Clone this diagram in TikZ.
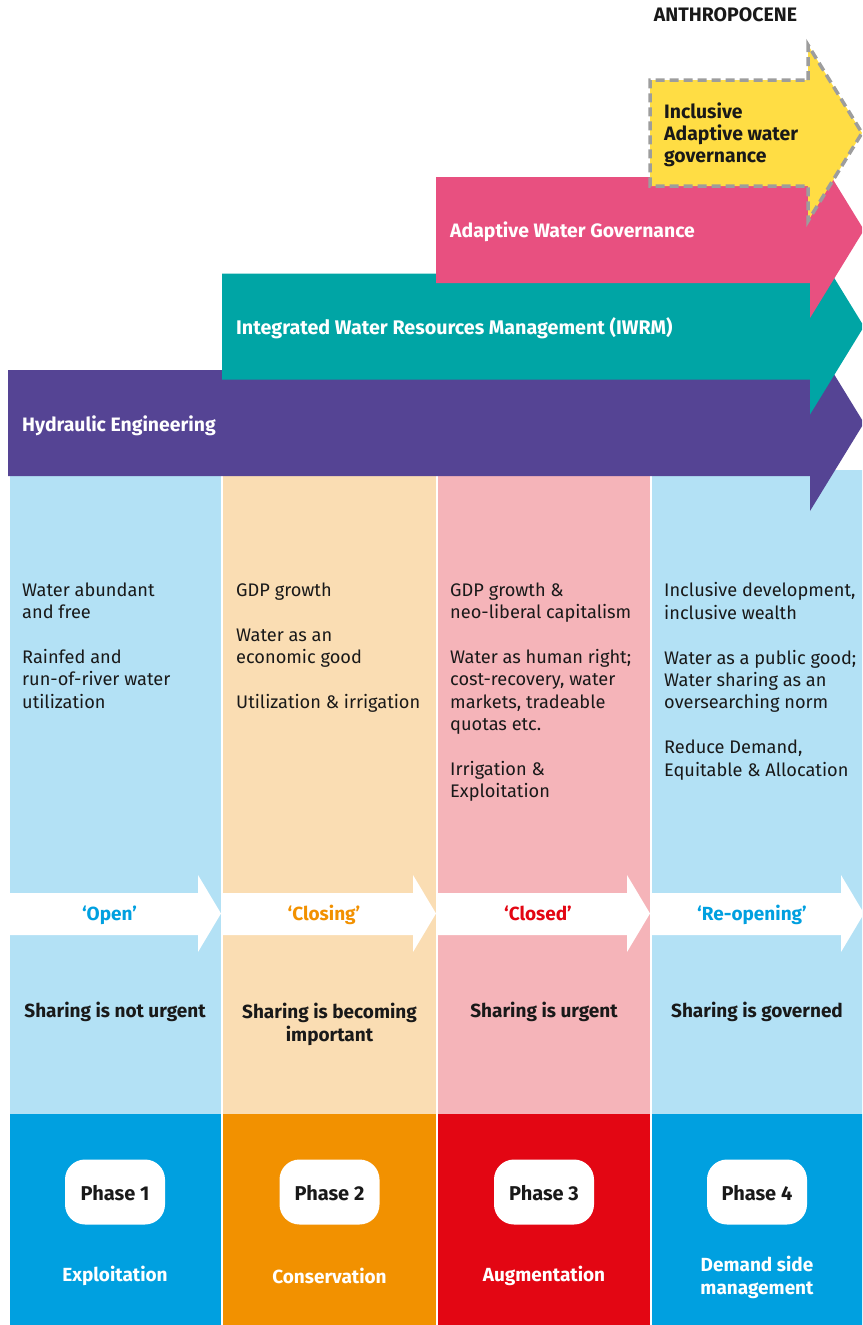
\documentclass[tikz,border=0pt]{standalone}
\usepackage{fontspec}
\setmainfont{Fira Sans}
\definecolor{hydro}{RGB}{85,68,148}
\definecolor{iwrm}{RGB}{0,165,165}
\definecolor{awg}{RGB}{232,80,128}
\definecolor{iawg}{RGB}{255,221,68}
\definecolor{dashgray}{RGB}{157,157,157}
\definecolor{skyl}{RGB}{179,225,245}
\definecolor{peachl}{RGB}{250,221,179}
\definecolor{rosel}{RGB}{245,180,185}
\definecolor{skyd}{RGB}{0,160,224}
\definecolor{oranged}{RGB}{242,145,0}
\definecolor{redd}{RGB}{227,6,19}
\definecolor{ink}{RGB}{25,25,25}
\tikzset{
  bandtext/.style={font=\bfseries\fontsize{19.4}{22}\selectfont, text=white, anchor=base west, inner sep=0},
  coltext/.style={font=\fontsize{18.2}{22.4}\selectfont, align=left, anchor=north west, inner sep=0, text=ink},
  share/.style={font=\bfseries\fontsize{19}{22.6}\selectfont, align=center, inner sep=0, text=ink},
  state/.style={font=\bfseries\fontsize{19}{22}\selectfont, inner sep=0, anchor=base},
  phasebox/.style={fill=white, rounded corners=20pt, minimum width=100pt, minimum height=65pt, inner sep=0},
  phaselabel/.style={font=\bfseries\fontsize{20}{22}\selectfont, inner sep=0, anchor=base, text=ink},
  phasename/.style={font=\bfseries\fontsize{19}{22.4}\selectfont, text=white, align=center, inner sep=0},
}
% a broad governance band: left edge, centre line, colour
\newcommand\govband[3]{%
  \fill[#3] (#1,#2-53) -- (810,#2-53) -- (810,#2-88) -- (864,#2)
    -- (810,#2+88) -- (810,#2+53) -- (#1,#2+53) -- cycle;}
% a white state arrow inside a column: left, right
\newcommand\statearrow[2]{%
  \fill[white] (#1,893) -- (#2-23,893) -- (#2-23,875) -- (#2,913.5)
    -- (#2-23,952) -- (#2-23,935) -- (#1,935) -- cycle;}
\begin{document}
\begin{tikzpicture}[x=1pt,y=-1pt]
\useasboundingbox (0,0) rectangle (862,1325);
\clip (0,0) rectangle (862,1325);

% light column backgrounds
\fill[skyl]   (9.5,470) rectangle (221,1113.5);
\fill[peachl] (223,470) rectangle (436,1113.5);
\fill[rosel]  (438,470) rectangle (650,1113.5);
\fill[skyl]   (652,470) rectangle (870,1113.5);

% dark phase blocks
\fill[skyd]    (9.5,1113.5) rectangle (221,1330);
\fill[oranged] (223,1113.5) rectangle (436,1330);
\fill[redd]    (438,1113.5) rectangle (650,1330);
\fill[skyd]    (652,1113.5) rectangle (870,1330);

% state arrows
\statearrow{9.5}{221}
\statearrow{223}{436}
\statearrow{438}{650}
\statearrow{652}{864}

% governance bands, oldest at the bottom
\govband{8}{423}{hydro}
\govband{222}{326.5}{iwrm}
\govband{436}{230}{awg}
\fill[iawg] (650,80) -- (808,80) -- (808,45) -- (862,133) -- (808,221)
  -- (808,186) -- (650,186) -- cycle;
\draw[dashgray, line width=3.5pt, dash pattern=on 9pt off 5pt]
  (808,80) -- (808,45) -- (862,133) -- (808,221) -- (808,186) -- (650,186)
  -- (650,80) -- cycle;

\node[bandtext] (he) at (22,431) {Hydraulic Engineering};
\node[bandtext, font=\bfseries\fontsize{19.7}{22}\selectfont] (iw) at (236,334) {Integrated Water Resources Management (IWRM)};
\node[bandtext] (ag) at (450,237) {Adaptive Water Governance};
\node[bandtext, text=ink, anchor=north west, align=left, font=\bfseries\fontsize{19.4}{22}\selectfont]
  (ia) at (664,103) {Inclusive\\Adaptive water\\governance};
\node[font=\bfseries\fontsize{19.5}{22}\selectfont, text=ink, anchor=base, inner sep=0]
  (anth) at (725.5,21) {ANTHROPOCENE};

% column descriptions
\node[coltext] (d1) at (22,582.5) {Water abundant\\and free\\[22.4pt]Rainfed and\\run-of-river water\\utilization};
\node[coltext] (d2) at (236,582.5) {GDP growth\\[22.4pt]Water as an\\economic good\\[22.4pt]Utilization \& irrigation};
\node[coltext] (d3) at (450,582.5) {GDP growth \&\\neo-liberal capitalism\\[22.4pt]Water as human right;\\cost-recovery, water\\markets, tradeable\\quotas etc.\\[22.4pt]Irrigation \&\\Exploitation};
\node[coltext] (d4) at (664,582.5) {Inclusive development,\\inclusive wealth\\[22.4pt]Water as a public good;\\Water sharing as an\\oversearching norm\\[22.4pt]Reduce Demand,\\Equitable \& Allocation};

% states
\node[state, text=skyd]    (s1) at (109.5,920) {‘Open’};
\node[state, text=oranged] (s2) at (324,920) {‘Closing’};
\node[state, text=redd]    (s3) at (538,920) {‘Closed’};
\node[state, text=skyd]    (s4) at (752,920) {‘Re-opening’};

% sharing
\node[share, anchor=base] (h1) at (115,1017) {Sharing is not urgent};
\node[share, anchor=north] (h2) at (329.5,1003) {Sharing is becoming\\important};
\node[share, anchor=base] (h3) at (544,1017) {Sharing is urgent};
\node[share, anchor=base] (h4) at (757,1017) {Sharing is governed};

% phases
\node[phasebox] (p1) at (115,1192) {};
\node[phasebox] (p2) at (329.5,1192) {};
\node[phasebox] (p3) at (544,1192) {};
\node[phasebox] (p4) at (757,1192) {};
\node[phaselabel] (t1) at (115,1200) {Phase 1};
\node[phaselabel] (t2) at (329.5,1200) {Phase 2};
\node[phaselabel] (t3) at (544,1200) {Phase 3};
\node[phaselabel] (t4) at (757,1200) {Phase 4};

\node[phasename, anchor=base] (n1) at (115,1281) {Exploitation};
\node[phasename, anchor=base] (n2) at (329.5,1283) {Conservation};
\node[phasename, anchor=base] (n3) at (544,1281) {Augmentation};
\node[phasename, anchor=north] (n4) at (757,1256) {Demand side\\management};
\end{tikzpicture}
\end{document}
